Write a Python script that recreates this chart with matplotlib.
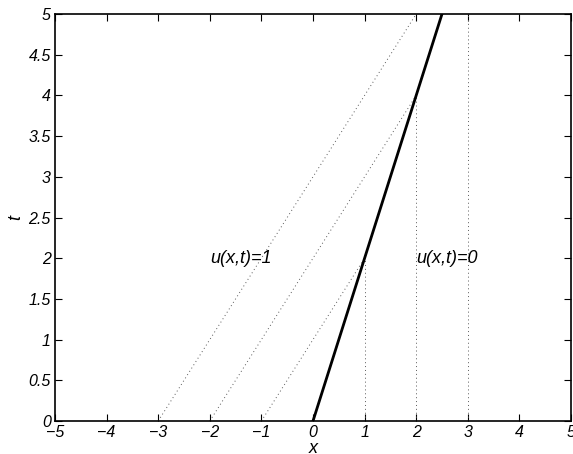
import matplotlib
matplotlib.use("Agg")
import matplotlib.pyplot as plt
import numpy as np

plt.rcParams['font.family'] = ['Liberation Sans', 'DejaVu Sans']
plt.rcParams['font.style'] = 'italic'

# shock: x = t/2
shock_t = np.array([0, 5])
shock_x = shock_t / 2

# characteristics for u=1 (slope dx/dt = 1), start points and end times
left_x0 = [-3, -2, -1]
left_tend = [5, 4, 2]
# characteristics for u=0 (vertical), start points and end times
right_x0 = [1, 2, 3]
right_tend = [2, 4, 5]

fig = plt.figure(figsize=(5.73, 4.54), dpi=100)
ax = fig.add_axes([55/573, 1 - 421/454, 516/573, 407/454])

for x0, te in zip(left_x0, left_tend):
    ax.plot([x0, x0 + te], [0, te], color='0.35', lw=0.7, ls=(0, (1, 3)))
for x0, te in zip(right_x0, right_tend):
    ax.plot([x0, x0], [0, te], color='0.35', lw=0.7, ls=(0, (1, 3)))
ax.plot(shock_x, shock_t, color='black', lw=2)

ax.text(-2, 2, 'u(x,t)=1', fontsize=13, va='center', ha='left')
ax.text(2, 2, 'u(x,t)=0', fontsize=13, va='center', ha='left')

ax.set_xlim(-5, 5)
ax.set_ylim(0, 5)
ax.set_xticks(np.arange(-5, 6, 1))
ax.set_yticks(np.arange(0, 5.01, 0.5))
ax.set_xticklabels([str(v).replace('-', '\u2212') for v in range(-5, 6)])
ax.set_yticklabels(['0', '0.5', '1', '1.5', '2', '2.5', '3', '3.5', '4', '4.5', '5'])
ax.tick_params(direction='in', top=True, right=True, labelsize=11.5, length=5, pad=3)
for s in ax.spines.values():
    s.set_linewidth(1.2)
ax.set_xlabel('x', fontsize=13, labelpad=0)
ax.set_ylabel('t', fontsize=13, labelpad=3)

fig.savefig('out.png', dpi=100)
